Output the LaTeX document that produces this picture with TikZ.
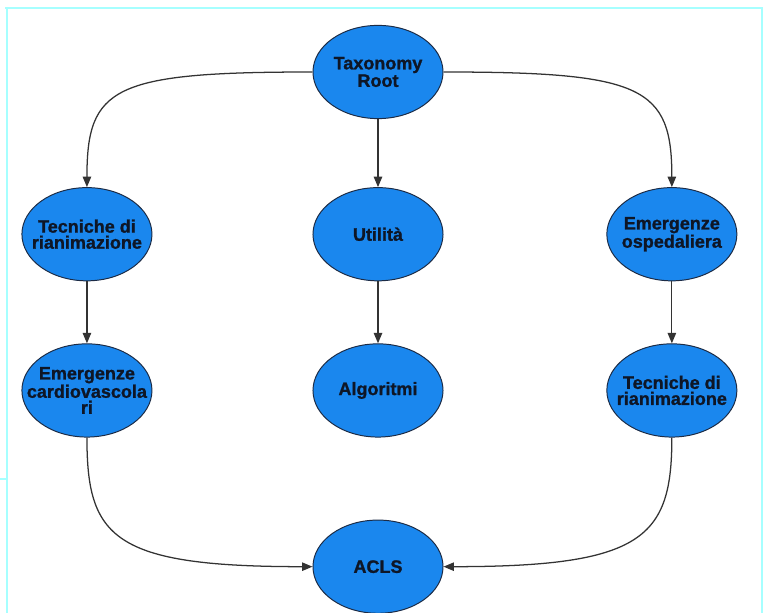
\documentclass[tikz,border=0pt]{standalone}
\usepackage{fontspec}
\setmainfont{Liberation Sans}
\newfontfamily\heavyfont[FakeBold=1.2]{Liberation Sans Bold}
\usetikzlibrary{positioning, shapes.geometric, arrows.meta}
\definecolor{taxBlue}{HTML}{1A87EE}
\definecolor{taxEdge}{HTML}{1C2B45}
\definecolor{taxText}{HTML}{0E1626}
\definecolor{frameCyan}{HTML}{A6FFFF}

\begin{document}
\begin{tikzpicture}[x=0.025cm, y=0.025cm,
  bubble/.style={ellipse, draw=taxEdge, line width=0.7pt, fill=taxBlue, minimum width=3.25cm, minimum height=2.33cm, inner xsep=-16pt, inner ysep=0pt, align=center, font=\heavyfont\fontsize{12.8}{11.4}\selectfont, text=taxText},
  arr/.style={-{Triangle[length=2.6mm, width=2.1mm]}, line width=0.9pt, draw=black!80}
]
\useasboundingbox (0,0) rectangle (765,613);

% frame left over from the slide
\draw[frameCyan, line width=1.4pt] (5,605) -- (763,605);
\draw[frameCyan, line width=1.1pt] (7,605) -- (7,0);
\draw[frameCyan, line width=1.1pt] (762,605) -- (762,0);
\draw[frameCyan, line width=1.4pt] (0,134) -- (7,134);

\node[bubble] (root) at (378,541) {Taxonomy\\Root};
\node[bubble, below=1.7cm of root] (util) {Utilità};
\node[bubble, left=4cm of util] (tecL) {Tecniche di\\rianimazione};
\node[bubble, right=4.07cm of util] (emOsp) {Emergenze\\ospedaliera};
\node[bubble, below=1.55cm of util] (algo) {Algoritmi};
\node[bubble, below=1.55cm of tecL] (emCard) {Emergenze\\cardiovascola\\ri};
\node[bubble, below=1.55cm of emOsp] (tecR) {Tecniche di\\rianimazione};
\node[bubble, below=2.05cm of algo] (acls) {ACLS};

\draw[arr] (root.west) .. controls +(-200,0) and +(0,100) .. (tecL.north);
\draw[arr] (root) -- (util);
\draw[arr] (root.east) .. controls +(200,0) and +(0,100) .. (emOsp.north);
\draw[arr] (tecL) -- (emCard);
\draw[arr] (util) -- (algo);
\draw[arr] (emOsp) -- (tecR);
\draw[arr] (emCard.south) .. controls +(0,-100) and +(-200,0) .. (acls.west);
\draw[arr] (tecR.south) .. controls +(0,-100) and +(200,0) .. (acls.east);
\end{tikzpicture}
\end{document}
